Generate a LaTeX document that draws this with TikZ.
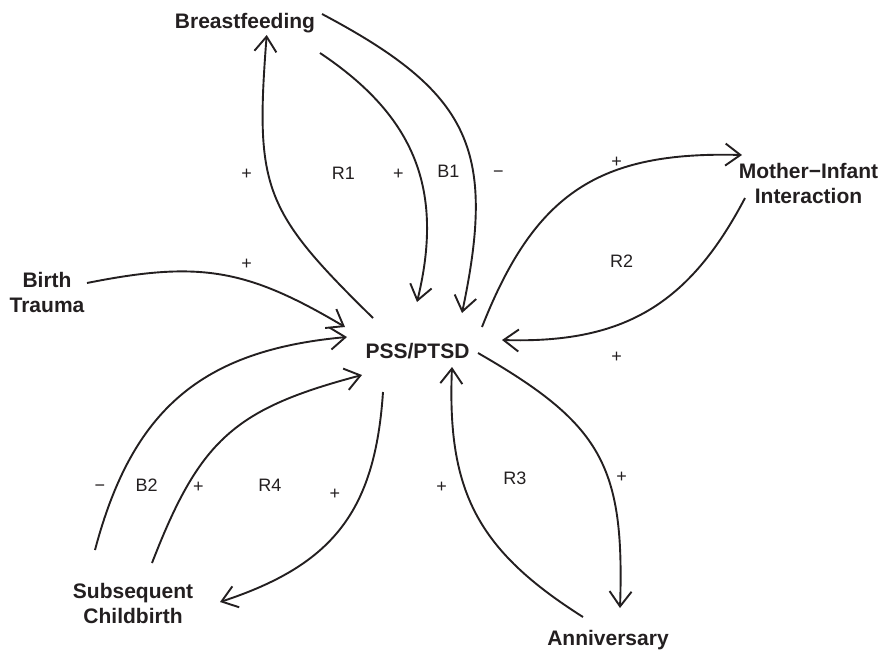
\documentclass[tikz,border=0pt]{standalone}
\usepackage{fontspec}
\setmainfont{Liberation Sans}
\usetikzlibrary{arrows.meta}
\definecolor{ink}{RGB}{35,31,32}
\begin{document}
\begin{tikzpicture}[x=1pt,y=-1pt,
  conn/.style={draw=ink, line width=1.9pt, -{Straight Barb[length=15pt,width=22pt]}},
  var/.style={font=\fontsize{21}{25}\selectfont\bfseries, text=ink, align=center, inner sep=0pt},
  pol/.style={font=\fontsize{18}{20}\selectfont, text=ink, inner sep=0pt, anchor=base}]
\useasboundingbox (0,0) rectangle (887,649);
% variables
\node[var, anchor=base] (bf) at (245,28) {Breastfeeding};
\node[var] (mi) at (808.5,183) {Mother−Infant\\Interaction};
\node[var] (bt) at (47,292) {Birth\\Trauma};
\node[var, anchor=base] (pss) at (417.5,358) {PSS/PTSD};
\node[var] (sc) at (133,603) {Subsequent\\Childbirth};
\node[var, anchor=base] (an) at (608,645) {Anniversary};
% connector ends
\coordinate (bf-o1) at (320,53);
\coordinate (pss-i1) at (417,302);
\coordinate (bf-o2) at (322,14);
\coordinate (pss-i2) at (462,313);
\coordinate (pss-o1) at (373,318);
\coordinate (bf-i1) at (266.7,35);
\coordinate (bt-o) at (87,283);
\coordinate (pss-i3) at (345,327);
\coordinate (pss-o2) at (482,327);
\coordinate (mi-i) at (742,155);
\coordinate (mi-o) at (745,198);
\coordinate (pss-i4) at (502,340);
\coordinate (pss-o3) at (478,353);
\coordinate (an-i) at (620,608);
\coordinate (an-o) at (583,617);
\coordinate (pss-i5) at (452,367);
\coordinate (sc-o1) at (95,550);
\coordinate (pss-i6) at (347,337);
\coordinate (sc-o2) at (152,563);
\coordinate (pss-i7) at (362,375);
\coordinate (pss-o4) at (383,392);
\coordinate (sc-i) at (220,602);
% connectors
\draw[conn] (bf-o1) to[bend left=35, looseness=1.1] (pss-i1);
\draw[conn] (bf-o2) to[bend left=37, looseness=1.3] (pss-i2);
\draw[conn] (pss-o1) to[bend left=25, looseness=1.3] (bf-i1);
\draw[conn] (bt-o) to[bend left=21, looseness=1.12] (pss-i3);
\draw[conn] (pss-o2) to[bend left=35, looseness=1.18] (mi-i);
\draw[conn] (mi-o) to[bend left=32, looseness=1.1] (pss-i4);
\draw[conn] (pss-o3) to[bend left=31, looseness=1.25] (an-i);
\draw[conn] (an-o) to[bend left=30, looseness=1.13] (pss-i5);
\draw[conn] (sc-o1) to[bend left=35, looseness=1.13] (pss-i6);
\draw[conn] (sc-o2) to[bend left=27, looseness=1.2] (pss-i7);
\draw[conn] (pss-o4) to[bend left=34, looseness=1.15] (sc-i);
% polarities and loop labels
\node[pol] (p1) at (246.7,179.3) {+};
\node[pol] (r1) at (343.3,179.3) {R1};
\node[pol] (p2) at (398.3,179.3) {+};
\node[pol] (b1) at (448.3,177.7) {B1};
\node[pol] (m1) at (498.3,177.7) {−};
\node[pol] (p3) at (616.7,167.7) {+};
\node[pol] (r2) at (621.7,267.7) {R2};
\node[pol] (p4) at (616.7,362.7) {+};
\node[pol] (p5) at (246.7,269.3) {+};
\node[pol] (m2) at (100,491.7) {−};
\node[pol] (b2) at (146.7,491) {B2};
\node[pol] (p6) at (198.3,492.7) {+};
\node[pol] (r4) at (270,491) {R4};
\node[pol] (p7) at (335,499.3) {+};
\node[pol] (p8) at (441.7,492.7) {+};
\node[pol] (r3) at (515,484.3) {R3};
\node[pol] (p9) at (621.7,482.7) {+};
\end{tikzpicture}
\end{document}
